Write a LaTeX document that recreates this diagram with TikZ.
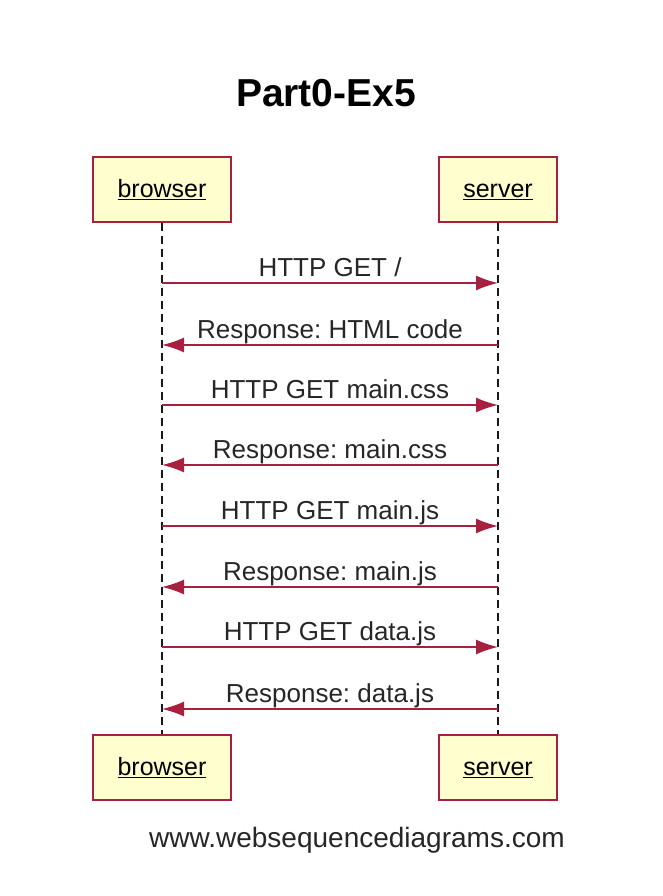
\documentclass[tikz,border=0pt]{standalone}
\usepackage{fontspec}
\setmainfont{Liberation Sans}
\usetikzlibrary{arrows.meta}
\frenchspacing

\definecolor{wsdred}{RGB}{168,32,64}
\definecolor{wsdbox}{RGB}{254,254,206}

\begin{document}
\begin{tikzpicture}[x=1pt,y=-1pt,
    actor/.style={draw=wsdred, line width=1.4pt, fill=wsdbox, minimum height=65pt,
      inner sep=0pt, text height=20pt, text depth=4pt, font=\fontsize{25}{30}\selectfont},
    life/.style={draw=black!90, line width=1.4pt, dash pattern=on 8pt off 5pt},
    msg/.style={draw=wsdred, line width=1.5pt, -{Latex[length=22pt,width=15pt]}},
    lbl/.style={anchor=base, yshift=7pt, inner sep=0pt, font=\fontsize{26}{30}\selectfont, text=black!85}]
    \useasboundingbox (0,0) rectangle (662,896);

    % title
    \node[anchor=base, font=\fontsize{39}{44}\selectfont\bfseries] (title) at (326,107) {Part0-Ex5};

    % participants
    \node[actor, minimum width=138pt] (bt) at (162,189.5) {\underline{browser}};
    \node[actor, minimum width=118pt] (st) at (498,189.5) {\underline{server}};
    \node[actor, minimum width=138pt] (bb) at (162,767.5) {\underline{browser}};
    \node[actor, minimum width=118pt] (sb) at (498,767.5) {\underline{server}};

    % lifelines
    \draw[life] (bt) -- (bb);
    \draw[life] (st) -- (sb);

    % message ends
    \coordinate (b1) at (162,283); \coordinate (s1) at (498,283);
    \coordinate (b2) at (162,345); \coordinate (s2) at (498,345);
    \coordinate (b3) at (162,405); \coordinate (s3) at (498,405);
    \coordinate (b4) at (162,465); \coordinate (s4) at (498,465);
    \coordinate (b5) at (162,526); \coordinate (s5) at (498,526);
    \coordinate (b6) at (162,587); \coordinate (s6) at (498,587);
    \coordinate (b7) at (162,647); \coordinate (s7) at (498,647);
    \coordinate (b8) at (162,709); \coordinate (s8) at (498,709);

    % messages
    \draw[msg] (b1) -- node[lbl] {HTTP GET /} (s1);
    \draw[msg] (s2) -- node[lbl] {Response: HTML code} (b2);
    \draw[msg] (b3) -- node[lbl] {HTTP GET main.css} (s3);
    \draw[msg] (s4) -- node[lbl] {Response: main.css} (b4);
    \draw[msg] (b5) -- node[lbl] {HTTP GET main.js} (s5);
    \draw[msg] (s6) -- node[lbl] {Response: main.js} (b6);
    \draw[msg] (b7) -- node[lbl] {HTTP GET data.js} (s7);
    \draw[msg] (s8) -- node[lbl] {Response: data.js} (b8);

    % footer
    \node[anchor=base, font=\fontsize{28}{32}\selectfont, text=black!85] (foot) at (357,847) {www.websequencediagrams.com};
\end{tikzpicture}
\end{document}
